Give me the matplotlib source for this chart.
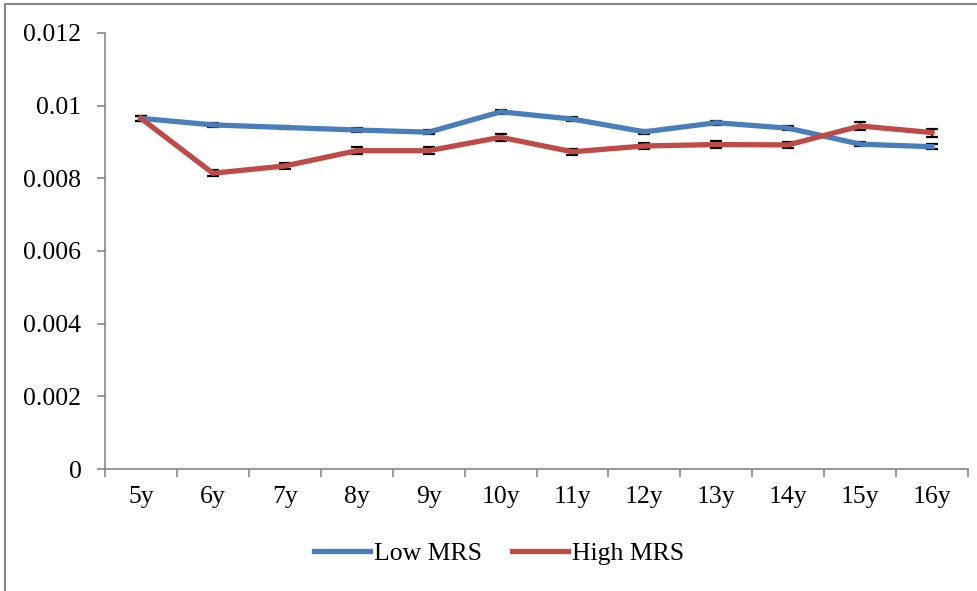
import matplotlib.pyplot as plt
from matplotlib.patches import Rectangle

plt.rcParams['font.family'] = ['Liberation Serif', 'DejaVu Serif']

ages = ['5y', '6y', '7y', '8y', '9y', '10y', '11y', '12y', '13y', '14y', '15y', '16y']
low_mrs = [0.00965, 0.00947, 0.00940, 0.00933, 0.00927, 0.00983, 0.00963, 0.00928, 0.00953, 0.00938, 0.00894, 0.00887]
low_err = [0.00007, 0.00005, 0.00005, 0.00005, 0.00005, 0.00005, 0.00005, 0.00005, 0.00005, 0.00005, 0.00006, 0.00007]
high_mrs = [0.00965, 0.00814, 0.00834, 0.00876, 0.00876, 0.00913, 0.00873, 0.00889, 0.00893, 0.00892, 0.00944, 0.00926]
high_err = [0.00007, 0.00008, 0.00009, 0.00009, 0.00009, 0.00009, 0.00009, 0.00009, 0.00009, 0.00008, 0.00010, 0.00011]

fs = 18.5

fig = plt.figure(figsize=(9.78, 5.91), dpi=100)
ax = fig.add_axes([0.1074, 0.2064, 0.8824, 0.7378])

x = range(len(ages))
ax.errorbar(x, low_mrs, yerr=low_err, color='#4a7ebb', lw=3.8, ecolor='black',
            elinewidth=1.3, capsize=4, capthick=1.6, label='Low MRS', zorder=3)
ax.errorbar(x, high_mrs, yerr=high_err, color='#be4b48', lw=3.8, ecolor='black',
            elinewidth=1.3, capsize=4, capthick=1.6, label='High MRS', zorder=3)

ax.set_xlim(-0.5, len(ages) - 0.5)
ax.set_ylim(0, 0.012)
ax.set_yticks([0, 0.002, 0.004, 0.006, 0.008, 0.01, 0.012])
ax.set_yticklabels(['0', '0.002', '0.004', '0.006', '0.008', '0.01', '0.012'])
ax.set_xticks(list(x))
ax.set_xticklabels(ages)
ax.set_xticks([i - 0.5 for i in range(len(ages) + 1)], minor=True)
ax.tick_params(axis='x', which='major', length=0, pad=12, labelsize=fs)
ax.tick_params(axis='x', which='minor', length=6, color='#868686', width=1.2)
ax.tick_params(axis='y', length=6, color='#868686', width=1.2, pad=11, labelsize=fs)

for s in ['top', 'right']:
    ax.spines[s].set_visible(False)
for s in ['left', 'bottom']:
    ax.spines[s].set_color('#868686')
    ax.spines[s].set_linewidth(1.2)

handles, labels = ax.get_legend_handles_labels()
handles = [h[0] for h in handles]
ax.legend(handles, labels, loc='center', bbox_to_anchor=(0.4566, -0.193), ncol=2,
          frameon=False, fontsize=fs, handlelength=2.2, handletextpad=0.15,
          columnspacing=1.15)

fig.patches.append(Rectangle((5 / 978, -0.1), 1.2, 1 - 4 / 591 + 0.1, transform=fig.transFigure,
                             fill=False, edgecolor='#868686', lw=1.5))

fig.savefig('out.png', dpi=100)
